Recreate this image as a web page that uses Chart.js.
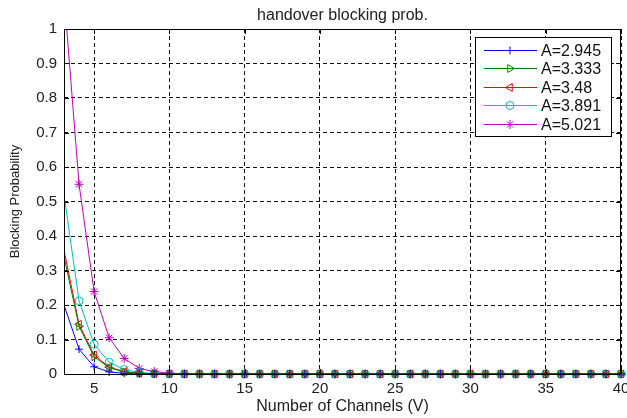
<!DOCTYPE html>
<html><head><meta charset="utf-8">
<style>html,body{margin:0;padding:0;background:#fff;}#wrap{width:627px;height:418px;}</style>
<script src="https://cdn.jsdelivr.net/npm/chart.js@4.4.1/dist/chart.umd.min.js"></script>
</head><body><div id="wrap"><canvas id="c" width="627" height="418"></canvas></div>
<script>
const channels = [3,4,5,6,7,8,9,10,11,12,13,14,15,16,17,18,19,20,21,22,23,24,25,26,27,28,29,30,31,32,33,34,35,36,37,38,39,40];
const xTicks = [5,10,15,20,25,30,35,40];
const yTicks = [0,0.1,0.2,0.3,0.4,0.5,0.6,0.7,0.8,0.9,1];
const yTickLabels = ['0','0.1','0.2','0.3','0.4','0.5','0.6','0.7','0.8','0.9','1'];
const seriesNames = ['A=2.945','A=3.333','A=3.48','A=3.891','A=5.021'];
const blockA2945 = [0.200,0.072,0.021,0.006,0.0017,0.0004,0.0001,0,0,0,0,0,0,0,0,0,0,0,0,0,0,0,0,0,0,0,0,0,0,0,0,0,0,0,0,0,0,0];
const blockA3333 = [0.340,0.138,0.050,0.018,0.006,0.0018,0.0005,0.0001,0,0,0,0,0,0,0,0,0,0,0,0,0,0,0,0,0,0,0,0,0,0,0,0,0,0,0,0,0,0];
const blockA348  = [0.360,0.144,0.055,0.020,0.007,0.0022,0.0006,0.0002,0,0,0,0,0,0,0,0,0,0,0,0,0,0,0,0,0,0,0,0,0,0,0,0,0,0,0,0,0,0];
const blockA3891 = [0.520,0.212,0.086,0.034,0.013,0.0045,0.0015,0.0005,0.0001,0,0,0,0,0,0,0,0,0,0,0,0,0,0,0,0,0,0,0,0,0,0,0,0,0,0,0,0,0];
const blockA5021 = [1.100,0.550,0.239,0.105,0.045,0.016,0.007,0.0025,0.0008,0.0002,0,0,0,0,0,0,0,0,0,0,0,0,0,0,0,0,0,0,0,0,0,0,0,0,0,0,0,0];

const FONT = 'Liberation Sans, Arial, Helvetica, sans-serif';
const styles = [
  {color:'#0000ff', pointStyle:'cross', rotation:0, radius:4},
  {color:'#008000', pointStyle:'triangle', rotation:90, radius:4.5},
  {color:'#ff0000', pointStyle:'triangle', rotation:-90, radius:4.5},
  {color:'#00bfbf', pointStyle:'circle', rotation:0, radius:4},
  {color:'#bf00bf', pointStyle:'star', rotation:0, radius:4.5}
];
const seriesData = [blockA2945, blockA3333, blockA348, blockA3891, blockA5021];

const datasets = seriesData.map((arr, i) => ({
  label: seriesNames[i],
  data: channels.map((x, j) => ({x: x, y: arr[j]})),
  borderColor: styles[i].color,
  backgroundColor: 'rgba(0,0,0,0)',
  borderWidth: 1,
  pointStyle: styles[i].pointStyle,
  pointRotation: styles[i].rotation,
  pointRadius: ctx => ctx.dataIndex === 0 ? 0 : styles[i].radius,
  pointBorderColor: styles[i].color,
  pointBackgroundColor: 'rgba(0,0,0,0)',
  pointBorderWidth: 1,
  tension: 0,
  clip: {left: 0, top: 0, right: 8, bottom: 8}
}));

const framePlugin = {
  id: 'frame',
  afterDatasetsDraw(chart) {
    const {ctx, chartArea: a, scales} = chart;
    ctx.save();
    ctx.strokeStyle = '#000';
    ctx.lineWidth = 1;
    ctx.setLineDash([]);
    ctx.strokeRect(Math.round(a.left) + 0.5, Math.round(a.top) + 0.5, Math.round(a.right - a.left) - 1, Math.round(a.bottom - a.top));
    ctx.beginPath();
    xTicks.forEach(v => {
      const px = Math.round(scales.x.getPixelForValue(v)) + 0.5;
      ctx.moveTo(px, a.bottom); ctx.lineTo(px, a.bottom - 5);
      ctx.moveTo(px, a.top); ctx.lineTo(px, a.top + 5);
    });
    yTicks.forEach(v => {
      const py = Math.round(scales.y.getPixelForValue(v)) + 0.5;
      ctx.moveTo(a.left, py); ctx.lineTo(a.left + 5, py);
      ctx.moveTo(a.right, py); ctx.lineTo(a.right - 5, py);
    });
    ctx.stroke();

    // legend box
    const bx = a.right - 146, by = a.top + 8, bw = 136, bh = 99;
    ctx.fillStyle = '#fff';
    ctx.fillRect(bx, by, bw, bh);
    ctx.strokeRect(bx + 0.5, by + 0.5, bw, bh);
    ctx.font = '16px ' + FONT;
    ctx.textBaseline = 'middle';
    ctx.textAlign = 'left';
    seriesNames.forEach((name, i) => {
      const y = Math.round(by + 12.5 + i * 18.6) + 0.5;
      ctx.strokeStyle = styles[i].color;
      ctx.beginPath();
      ctx.moveTo(bx + 9, y); ctx.lineTo(bx + 62, y);
      ctx.stroke();
      if (Chart.helpers && Chart.helpers.drawPoint) {
        ctx.fillStyle = 'rgba(0,0,0,0)';
        Chart.helpers.drawPoint(ctx, {pointStyle: styles[i].pointStyle, rotation: styles[i].rotation, radius: styles[i].radius, borderWidth: 1}, bx + 35, y);
      }
      ctx.fillStyle = '#111';
      ctx.fillText(name, bx + 66, y + 1);
    });
    ctx.restore();
  }
};

new Chart(document.getElementById('c'), {
  type: 'line',
  data: {datasets},
  options: {
    responsive: false,
    animation: false,
    devicePixelRatio: 1,
    layout: {padding: {top: 0, right: 6, left: 0, bottom: 0}},
    plugins: {
      legend: {display: false},
      tooltip: {enabled: false},
      title: {
        display: true, text: 'handover blocking prob.', fullSize: false,
        color: '#222', font: {family: FONT, size: 16, weight: 'normal'},
        padding: {top: 6, bottom: 3.8}
      }
    },
    scales: {
      x: {
        type: 'linear', min: 3, max: 40,
        afterBuildTicks: s => { s.ticks = xTicks.map(v => ({value: v})); },
        afterFit: s => { s.height = 44; s.paddingRight = 0; s.paddingLeft = 0; },
        grid: {color: '#111', lineWidth: 1, drawTicks: false},
        border: {display: false, dash: [4, 3]},
        ticks: {color: '#222', font: {family: FONT, size: 15}, padding: 6, maxRotation: 0},
        title: {display: true, text: 'Number of Channels (V)', color: '#222', font: {family: FONT, size: 16}, padding: {top: 0, bottom: 1.4}}
      },
      y: {
        type: 'linear', min: 0, max: 1,
        afterBuildTicks: s => { s.ticks = yTicks.map(v => ({value: v})); },
        afterFit: s => { s.width = 64; s.paddingTop = 0; s.paddingBottom = 0; },
        grid: {color: '#111', lineWidth: 1, drawTicks: false},
        border: {display: false, dash: [4, 3]},
        ticks: {color: '#222', font: {family: FONT, size: 15}, padding: 7,
          callback: (v) => { const k = yTicks.indexOf(v); return k >= 0 ? yTickLabels[k] : ''; }},
        title: {display: true, text: 'Blocking Probability', color: '#222', font: {family: FONT, size: 13}, padding: {top: 8, bottom: 0}}
      }
    }
  },
  plugins: [framePlugin]
});
</script>
</body></html>
